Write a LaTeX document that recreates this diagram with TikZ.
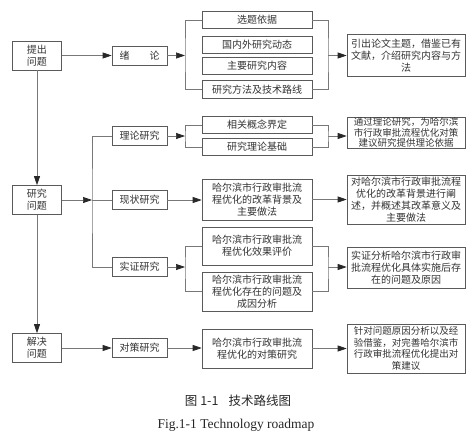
\documentclass[tikz,border=0pt]{standalone}
\usepackage{fontspec}
\setmainfont{Liberation Serif}
\newfontfamily\cjk{Noto Sans CJK SC}
\usetikzlibrary{arrows.meta}
\definecolor{boxcol}{RGB}{90,90,90}
\definecolor{linecol}{RGB}{120,120,120}
\definecolor{tipcol}{RGB}{40,40,40}
\begin{document}
\begin{tikzpicture}[x=1pt,y=-1pt,
  box/.style={draw=boxcol, fill=white, line width=0.6pt, inner sep=0pt, align=center,
    font=\cjk\fontsize{10}{12}\selectfont, text=black!80},
  lbox/.style={box, minimum width=49pt, minimum height=29pt},
  mbox/.style={box, minimum width=55pt, minimum height=19pt},
  cbox/.style={box, minimum width=110pt},
  rbox/.style={box, minimum width=118pt},
  link/.style={draw=linecol, line width=0.7pt},
  arr/.style={link, -{Triangle[length=9pt,width=6pt,color=tipcol]}}]
\useasboundingbox (0,0) rectangle (476,439);
% left column
\node[lbox] (q1) at (37,55.5) {提出\\问题};
\node[lbox] (q2) at (37,200) {研究\\问题};
\node[lbox] (q3) at (37,348) {解决\\问题};
% second column
\node[mbox] (xl) at (139.5,55.5) {绪\hspace{2em}论};
\node[mbox] (l1) at (139.5,136) {理论研究};
\node[mbox] (l2) at (139.5,200) {现状研究};
\node[mbox] (l3) at (139.5,267) {实证研究};
\node[mbox] (l4) at (139.5,348) {对策研究};
% third column
\node[cbox, minimum height=17pt] (a1) at (257,20) {选题依据};
\node[cbox, minimum height=17pt] (a2) at (257,44.5) {国内外研究动态};
\node[cbox, minimum height=17pt] (a3) at (257,66) {主要研究内容};
\node[cbox, minimum height=18pt] (a4) at (257,89.5) {研究方法及技术路线};
\node[cbox, minimum height=17pt] (a5) at (257,125) {相关概念界定};
\node[cbox, minimum height=17pt] (a6) at (257,147) {研究理论基础};
\node[cbox, minimum height=41pt] (a7) at (257,199.5) {哈尔滨市行政审批流\\程优化的改革背景及\\主要做法};
\node[cbox, minimum height=38pt] (a8) at (257,246) {哈尔滨市行政审批流\\程优化效果评价};
\node[cbox, minimum height=39pt] (a9) at (257,291.5) {哈尔滨市行政审批流\\程优化存在的问题及\\成因分析};
\node[cbox, minimum height=39pt] (a10) at (257,348.5) {哈尔滨市行政审批流\\程优化的对策研究};
% right column
\node[rbox, minimum height=42pt] (r1) at (406,55.5) {引出论文主题，借鉴已有\\文献，介绍研究内容与方\\法};
\node[rbox, minimum height=31pt, font=\cjk\fontsize{9.5}{10.3}\selectfont] (r2) at (406,132.5) {通过理论研究，为哈尔滨\\市行政审批流程优化对策\\建议研究提供理论依据};
\node[rbox, minimum height=49pt] (r3) at (406,199.5) {对哈尔滨市行政审批流程\\优化的改革背景进行阐\\述，并概述其改革意义及\\主要做法};
\node[rbox, minimum height=41pt] (r4) at (406,267.5) {实证分析哈尔滨市行政审\\批流程优化具体实施后存\\在的问题及原因};
\node[rbox, minimum height=49pt, font=\cjk\fontsize{9.5}{11.5}\selectfont] (r5) at (406,348.5) {针对问题原因分析以及经\\验借鉴，对完善哈尔滨市\\行政审批流程优化提出对\\策建议};
% junction coordinates
\coordinate (b1) at (185,55.5);
\coordinate (c1) at (328,55.5);
\coordinate (v) at (92,200);
\coordinate (b2) at (185,136);
\coordinate (c2) at (328,136);
\coordinate (b3) at (185,267);
\coordinate (c3) at (328,267);
% left vertical flow
\draw[arr] (q1.south) -- (q2.north);
\draw[arr] (q2.south) -- (q3.north);
\draw[arr] (q1.east) -- (xl.west);
\draw[arr] (q3.east) -- (l4.west);
% research split
\draw[link] (l1.west) -| (v) |- (l3.west);
\draw[link] (v) -- (l2.west);
\draw[arr] (q2.east) -- (v);
% introduction
\draw[link] (a1.west) -| (b1) |- (a4.west);
\draw[arr] (xl.east) -- (b1);
\draw[link] (a1.east) -| (c1) |- (a4.east);
\draw[arr] (c1) -- (c1 -| r1.west);
% theory
\draw[link] (a5.west) -| (b2) |- (a6.west);
\draw[arr] (l1.east) -- (b2);
\draw[link] (a5.east) -| (c2) |- (a6.east);
\draw[arr] (c2) -- (c2 -| r2.west);
% status
\draw[arr] (l2.east) -- (l2.east -| a7.west);
\draw[arr] (a7.east) -- (a7.east -| r3.west);
% empirical
\draw[link] (a8.west) -| (b3) |- (a9.west);
\draw[arr] (l3.east) -- (b3);
\draw[link] (a8.east) -| (c3) |- (a9.east);
\draw[arr] (c3) -- (c3 -| r4.west);
% countermeasure
\draw[arr] (l4.east) -- (l4.east -| a10.west);
\draw[arr] (a10.east) -- (a10.east -| r5.west);
% caption
\node[font=\cjk\fontsize{12.5}{14}\selectfont, text=black!85] (cap1) at (238,401) {图 1-1\hspace{0.8em}技术路线图};
\node[font=\fontsize{13.5}{15}\selectfont, text=black!85] (cap2) at (236,425) {Fig.1-1 Technology roadmap};
\end{tikzpicture}
\end{document}
